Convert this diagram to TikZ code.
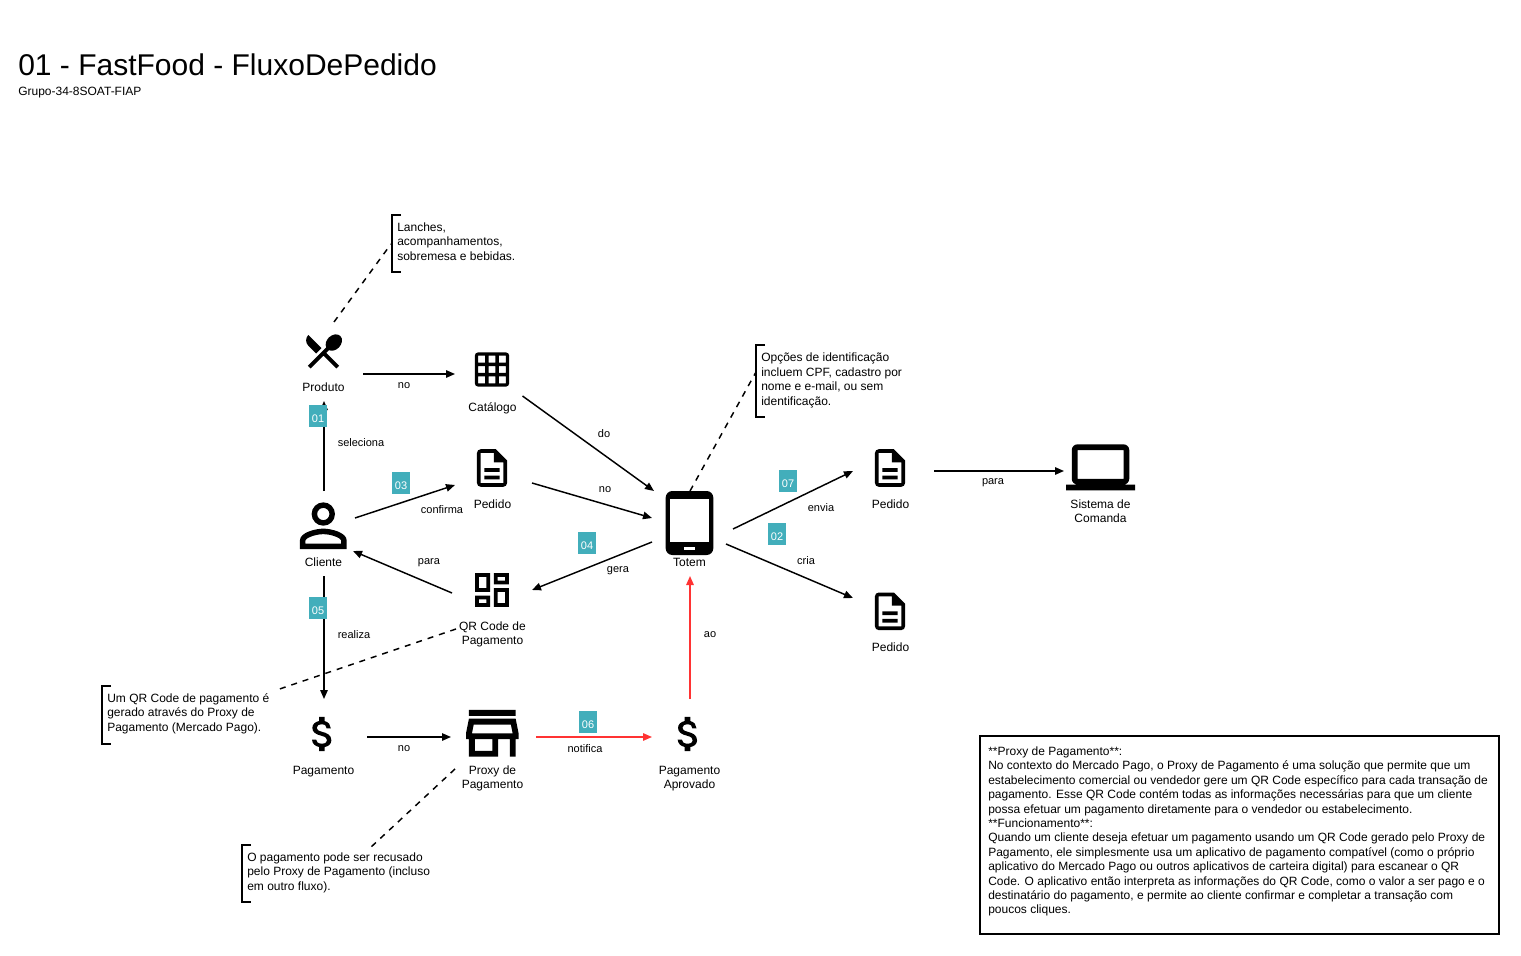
\documentclass[tikz,border=0pt]{standalone}
\usepackage{fontspec}
\setmainfont{Liberation Sans}
\usetikzlibrary{arrows.meta,calc,svg.path}
\definecolor{badgecol}{HTML}{42AEBB}
\definecolor{redline}{HTML}{FF3333}
\newcommand{\iconStart}[3]{\begin{scope}[shift={(#1,#2)},xscale=#3*0.75,yscale=-#3*0.75,shift={(-12pt,-12pt)}]}
\newcommand{\iconRest}[3]{\iconStart{#1}{#2}{#3}\fill svg {M8.1 13.34 l2.83 -2.83 L3.91 3.5 c-1.56 1.56 -1.56 4.09 0 5.66 l4.19 4.18 z m6.78 -1.81 c1.53 0.71 3.68 0.21 5.27 -1.38 1.91 -1.91 2.28 -4.65 0.81 -6.12 -1.46 -1.46 -4.2 -1.1 -6.12 0.81 -1.59 1.59 -2.09 3.74 -1.38 5.27 L3.7 19.87 l1.41 1.41 L12 14.41 l6.88 6.88 1.41 -1.41 L13.41 13 l1.47 -1.47 z};\end{scope}}
\newcommand{\iconGrid}[3]{\iconStart{#1}{#2}{#3}\fill svg {M20 2 H4 c-1.1 0 -2 0.9 -2 2 v16 c0 1.1 0.9 2 2 2 h16 c1.1 0 2 -0.9 2 -2 V4 c0 -1.1 -0.9 -2 -2 -2 z M8 20 H4 v-4 h4 v4 z m0 -6 H4 v-4 h4 v4 z m0 -6 H4 V4 h4 v4 z m6 12 h-4 v-4 h4 v4 z m0 -6 h-4 v-4 h4 v4 z m0 -6 h-4 V4 h4 v4 z m6 12 h-4 v-4 h4 v4 z m0 -6 h-4 v-4 h4 v4 z m0 -6 h-4 V4 h4 v4 z};\end{scope}}
\newcommand{\iconDoc}[3]{\iconStart{#1}{#2}{#3}\fill svg {M8 16 h8 v2 H8 z M8 12 h8 v2 H8 z M14 2 H6 c-1.1 0 -2 0.9 -2 2 v16 c0 1.1 0.89 2 1.99 2 H18 c1.1 0 2 -0.9 2 -2 V8 l-6 -6 z M18 20 H6 V4 h7 v5 h5 v11 z};\end{scope}}
\newcommand{\iconPerson}[3]{\iconStart{#1}{#2}{#3}\fill svg {M12 5.9 c1.16 0 2.1 0.94 2.1 2.1 s-0.94 2.1 -2.1 2.1 S9.9 9.16 9.9 8 s0.94 -2.1 2.1 -2.1 z M12 14.9 c2.97 0 6.1 1.46 6.1 2.1 v1.1 H5.9 V17 c0 -0.64 3.13 -2.1 6.1 -2.1 z M12 4 C9.79 4 8 5.79 8 8 s1.79 4 4 4 4 -1.79 4 -4 -1.79 -4 -4 -4 z M12 13 c-2.67 0 -8 1.34 -8 4 v3 h16 v-3 c0 -2.66 -5.33 -4 -8 -4 z};\end{scope}}
\newcommand{\iconDash}[3]{\iconStart{#1}{#2}{#3}\fill svg {M19 5 v2 h-4 V5 h4 z M9 5 v6 H5 V5 h4 z M19 13 v6 h-4 v-6 h4 z M9 17 v2 H5 v-2 h4 z M21 3 h-8 v6 h8 V3 z M11 3 H3 v10 h8 V3 z M21 11 h-8 v10 h8 V11 z M11 15 H3 v6 h8 v-6 z};\end{scope}}
\newcommand{\iconMoney}[3]{\iconStart{#1}{#2}{#3}\fill svg {M11.8 10.9 c-2.27 -0.59 -3 -1.2 -3 -2.15 0 -1.09 1.01 -1.85 2.7 -1.85 1.78 0 2.44 0.85 2.5 2.1 h2.21 c-0.07 -1.72 -1.12 -3.3 -3.21 -3.81 V3 h-3 v2.16 c-1.94 0.42 -3.5 1.68 -3.5 3.61 0 2.31 1.91 3.46 4.7 4.13 2.5 0.6 3 1.48 3 2.41 0 0.69 -0.49 1.79 -2.7 1.79 -2.06 0 -2.87 -0.92 -2.98 -2.1 h-2.2 c0.12 2.19 1.76 3.42 3.68 3.83 V21 h3 v-2.15 c1.95 -0.37 3.5 -1.5 3.5 -3.55 0 -2.84 -2.43 -3.81 -4.7 -4.4 z};\end{scope}}
\newcommand{\iconStore}[3]{\iconStart{#1}{#2}{#3}\fill svg {M18.36 9 l0.6 3 H5.04 l0.6 -3 h12.72 z M20 4 H4 v2 h16 V4 z M20 7 H4 l-1 5 v2 h1 v6 h10 v-6 h4 v6 h2 v-6 h1 v-2 l-1 -5 z M6 18 v-4 h6 v4 H6 z};\end{scope}}
\newcommand{\iconLaptop}[3]{\iconStart{#1}{#2}{#3}\fill svg {M20 18 c1.1 0 2 -0.9 2 -2 V6 c0 -1.1 -0.9 -2 -2 -2 H4 c-1.1 0 -2 0.9 -2 2 v10 c0 1.1 0.9 2 2 2 H0 v2 h24 v-2 h-4 z M4 6 h16 v10 H4 V6 z};\end{scope}}
\newcommand{\badgetxt}[1]{\raisebox{-2pt}[6pt][0pt]{#1}}
\tikzset{
  ibox/.style 2 args={minimum width=#1*0.75pt,minimum height=#2*0.75pt,inner sep=0pt,outer sep=0pt},
  captext/.style={font=\fontsize{9}{10.8}\selectfont,align=center,inner sep=0pt},
  elabel/.style={font=\fontsize{8.25}{9.9}\selectfont,inner sep=0pt},
  notetext/.style={font=\fontsize{9}{10.8}\selectfont,align=left,anchor=west,inner sep=0pt},
  badge/.style={fill=badgecol,text=white,font=\fontsize{8.25}{9.9}\selectfont,minimum width=13.5pt,minimum height=16.5pt,inner sep=0pt},
  arr/.style={line width=1.1pt,-{Triangle[length=6.75pt,width=5.6pt]}},
  redarr/.style={arr,draw=redline},
  dashline/.style={line width=1.1pt,dash pattern=on 4.5pt off 4.5pt},
  bracket/.style={line width=1.5pt,line cap=butt},
}
\begin{document}
\begin{tikzpicture}[x=0.75pt,y=-0.75pt]
\useasboundingbox (0,0) rectangle (1521,956);

% title
\node[anchor=west,inner sep=0pt,font=\fontsize{22.5}{27}\selectfont] (title) at (18,64.5) {01 - FastFood - FluxoDePedido};
\node[anchor=west,inner sep=0pt,font=\fontsize{9}{10.8}\selectfont] (subtitle) at (18,92.5) {Grupo-34-8SOAT-FIAP};

% hit boxes of the entities
\node[ibox={78}{80}] (produto) at (324,361) {};
\node[ibox={75}{70}] (catalogo) at (492.5,374) {};
\node[ibox={77}{70}] (pedidoA) at (493.5,484) {};
\node[ibox={62}{85}] (cliente) at (324,533.5) {};
\node[ibox={76}{85}] (totem) at (690,533.5) {};
\node[ibox={80}{80}] (qr) at (492,590) {};
\node[ibox={86}{76}] (pagamento) at (324,737) {};
\node[ibox={85}{64}] (proxy) at (493.5,737) {};
\node[ibox={76}{76}] (aprovado) at (690,737) {};
\node[ibox={81}{70}] (pedidoB) at (893.5,471) {};
\node[ibox={81}{70}] (pedidoC) at (893.5,598) {};
\node[ibox={73}{70}] (sistema) at (1100.5,471) {};

% icons
\iconRest{323.5}{351}{1.88}
\iconGrid{492}{369.5}{1.72}
\iconDoc{492}{468}{1.88}
\iconPerson{323.3}{525.7}{2.92}
\iconDash{492}{590}{1.88}
\iconMoney{322.8}{734}{1.9}
\iconStore{492.3}{733.3}{2.92}
\iconMoney{688.5}{734}{1.9}
\iconDoc{890}{468}{1.88}
\iconDoc{890}{611.3}{1.88}
\iconLaptop{1100.5}{467.3}{2.875}
% tablet
\fill[rounded corners=5pt] (665.7,491) rectangle (713.3,555);
\fill[white] (670,499) rectangle (709,541.7);
\fill[white] (684,547) rectangle (695,550);

% captions
\node[captext] (capProduto) at (323.5,387.5) {Produto};
\node[captext] (capCatalogo) at (492.5,408) {Catálogo};
\node[captext] (capPedidoA) at (492.5,504.5) {Pedido};
\node[captext] (capCliente) at (323.5,562.5) {Cliente};
\node[captext] (capQr) at (492.5,634.5) {QR Code de\\Pagamento};
\node[captext] (capTotem) at (689.5,562.5) {Totem};
\node[captext] (capPagamento) at (323.5,771.5) {Pagamento};
\node[captext] (capProxy) at (492.5,778.5) {Proxy de\\Pagamento};
\node[captext] (capAprovado) at (689.5,778.5) {Pagamento\\Aprovado};
\node[captext] (capPedidoB) at (890.5,504.5) {Pedido};
\node[captext] (capPedidoC) at (890.5,647.5) {Pedido};
\node[captext] (capSistema) at (1100.5,511) {Sistema de\\Comanda};

% notes
\node[notetext] (note1) at (397,241.5) {Lanches,\\acompanhamentos,\\sobremesa e bebidas.};
\node[notetext] (note2) at (761,380.5) {Opções de identificação\\incluem CPF, cadastro por\\nome e e-mail, ou sem\\identificação.};
\node[notetext] (note3) at (107,713.5) {Um QR Code de pagamento é\\gerado através do Proxy de\\Pagamento (Mercado Pago).};
\node[notetext] (note4) at (247,872.5) {O pagamento pode ser recusado\\pelo Proxy de Pagamento (incluso\\em outro fluxo).};
\draw[bracket] (401,215) -- (392,215) -- (392,272) -- (401,272);
\draw[bracket] (765,345) -- (756,345) -- (756,417) -- (765,417);
\draw[bracket] (111,686) -- (102,686) -- (102,744) -- (111,744);
\draw[bracket] (251,845) -- (242,845) -- (242,902) -- (251,902);

% connectors
\draw[arr] (cliente.north) -- (produto.south);
\draw[arr] ($(produto.east)+(0,13)$) -- (catalogo.west);
\draw[arr] ($(catalogo)+(30,22)$) -- ($(totem.north west)+(2,0)$);
\draw[arr] ($(cliente.east)+(0,-15.5)$) -- ($(pedidoA.west)+(0,1)$);
\draw[arr] ($(pedidoA.east)+(0,-1)$) -- ($(totem.west)+(0,-15.5)$);
\draw[arr] ($(totem.west)+(0,8.5)$) -- (qr.east);
\draw[arr] ($(qr.west)+(0,3)$) -- ($(cliente.east)+(-2,17.5)$);
\draw[arr] (cliente.south) -- (pagamento.north);
\draw[arr] (pagamento.east) -- (proxy.west);
\draw[redarr] (proxy.east) -- (aprovado.west);
\draw[redarr] (aprovado.north) -- (totem.south);
\draw[arr] ($(totem.east)+(5,-4.5)$) -- (pedidoB.west);
\draw[arr] ($(totem.east)+(-2,10.5)$) -- (pedidoC.west);
\draw[arr] (pedidoB.east) -- (sistema.west);
\draw[dashline] ($(produto.north)+(10,1)$) -- ($(note1.west)+(-6,2.5)$);
\draw[dashline] (totem.north) -- ($(note2.west)+(-5,-8.5)$);
\draw[dashline] ($(qr.south west)+(4,-1)$) -- ($(note3.east)+(10,-24.5)$);
\draw[dashline] ($(proxy.south west)+(4,0)$) -- ($(note4.north)+(30,-3)$);

% edge labels
\node[elabel] (lNo1) at (404,386) {no};
\node[elabel] (lSel) at (361,443) {seleciona};
\node[elabel] (lConf) at (442,510) {confirma};
\node[elabel] (lDo) at (604,434) {do};
\node[elabel] (lNo2) at (605,490) {no};
\node[elabel] (lGera) at (618,571) {gera};
\node[elabel] (lPara1) at (429,563) {para};
\node[elabel] (lReal) at (354,635) {realiza};
\node[elabel] (lNo3) at (404,749) {no};
\node[elabel] (lNot) at (585,749) {notifica};
\node[elabel] (lAo) at (710,635) {ao};
\node[elabel] (lEnv) at (821,508) {envia};
\node[elabel] (lCria) at (806,561) {cria};
\node[elabel] (lPara2) at (993,483) {para};

% badges
\node[badge] (b01) at (318,416) {\badgetxt{01}};
\node[badge] (b03) at (401,483) {\badgetxt{03}};
\node[badge] (b07) at (788,481) {\badgetxt{07}};
\node[badge] (b02) at (777,534) {\badgetxt{02}};
\node[badge] (b04) at (587,543) {\badgetxt{04}};
\node[badge] (b05) at (318,608) {\badgetxt{05}};
\node[badge] (b06) at (588,722) {\badgetxt{06}};

% explanation box
\node[draw,line width=1.5pt,minimum width=519*0.75pt,minimum height=198*0.75pt,inner sep=0pt] (info) at (1239.5,835) {};
\node[anchor=north west,inner sep=0pt,align=left,font=\fontsize{9}{10.8}\selectfont] (infotext) at (988,746.5) {**Proxy de Pagamento**:\\
No contexto do Mercado Pago, o Proxy de Pagamento é uma solução que permite que um\\
estabelecimento comercial ou vendedor gere um QR Code específico para cada transação de\\
pagamento. Esse QR Code contém todas as informações necessárias para que um cliente\\
possa efetuar um pagamento diretamente para o vendedor ou estabelecimento.\\
**Funcionamento**:\\
Quando um cliente deseja efetuar um pagamento usando um QR Code gerado pelo Proxy de\\
Pagamento, ele simplesmente usa um aplicativo de pagamento compatível (como o próprio\\
aplicativo do Mercado Pago ou outros aplicativos de carteira digital) para escanear o QR\\
Code. O aplicativo então interpreta as informações do QR Code, como o valor a ser pago e o\\
destinatário do pagamento, e permite ao cliente confirmar e completar a transação com\\
poucos cliques.};
\end{tikzpicture}
\end{document}
